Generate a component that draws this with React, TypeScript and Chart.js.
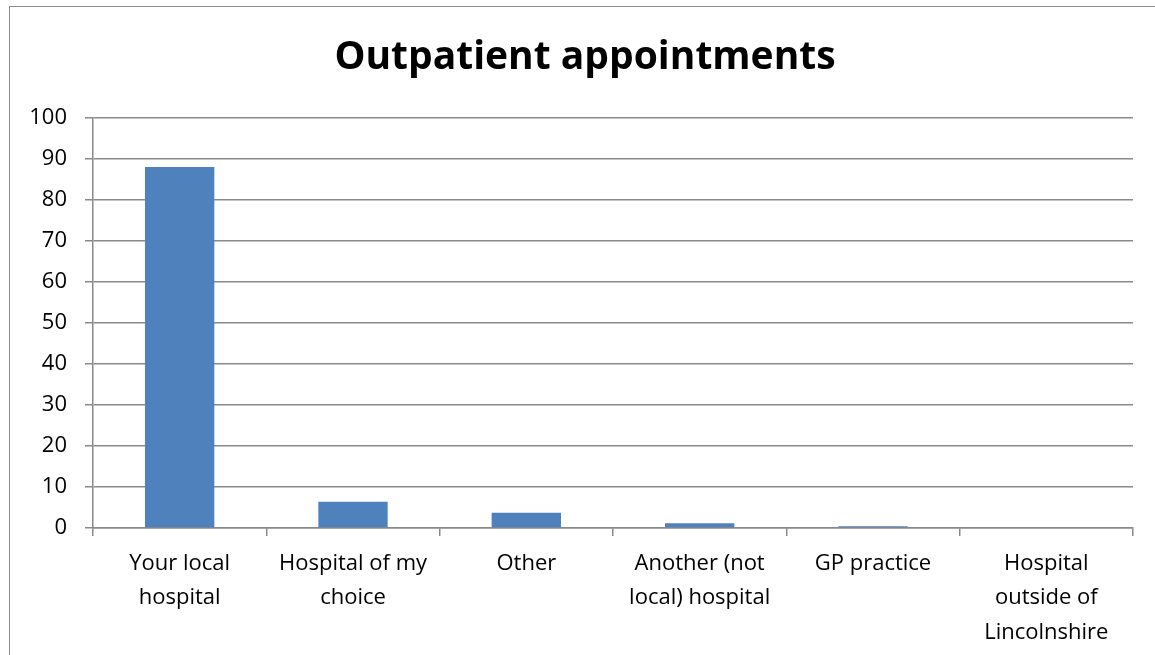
import React, { useEffect, useRef } from "react";
import { Chart, registerables } from "chart.js";

Chart.register(...registerables);

const categories: (string | string[])[] = [
  ["Your local", "hospital"],
  ["Hospital of my", "choice"],
  "Other",
  ["Another (not", "local) hospital"],
  "GP practice",
  ["Hospital", "outside of", "Lincolnshire"],
];
const values = [88, 6.4, 3.7, 1.15, 0.4, 0];
const titleText = "Outpatient appointments";
const yMin = 0;
const yMax = 100;
const yStep = 10;

const FONT = "'Open Sans', 'Liberation Sans', sans-serif";
const GRID = "#898989";

export default function App() {
  const ref = useRef<HTMLCanvasElement | null>(null);
  useEffect(() => {
    if (!ref.current) return;
    const chart = new Chart(ref.current, {
      type: "bar",
      data: {
        labels: categories,
        datasets: [
          {
            data: values,
            yAxisID: "y",
            backgroundColor: "#4F81BD",
            borderWidth: 0,
            categoryPercentage: 1,
            barPercentage: 0.4,
          },
        ],
      },
      options: {
        responsive: false,
        animation: false,
        layout: { padding: { left: 15, right: 0, top: 0, bottom: 0 } },
        plugins: {
          legend: { display: false },
          tooltip: { enabled: false },
          title: {
            display: true,
            text: titleText,
            color: "#000",
            font: { family: FONT, size: 39, weight: "bold", lineHeight: 1.2 },
            padding: { top: 34, bottom: 37 },
          },
        },
        scales: {
          x: {
            offset: true,
            grid: {
              display: true,
              drawOnChartArea: false,
              drawTicks: true,
              tickLength: 8,
              color: GRID,
              lineWidth: 1.5,
              offset: true,
            },
            border: { display: true, color: GRID, width: 1.5 },
            ticks: {
              color: "#000",
              font: { family: FONT, size: 22, lineHeight: 1.55 },
              padding: 11,
              maxRotation: 0,
              autoSkip: false,
            },
            afterFit: (s: any) => {
              s.height = 127;
            },
          },
          y: {
            position: "left",
            min: yMin,
            max: yMax,
            grid: {
              color: GRID,
              lineWidth: 1.5,
              tickLength: 8,
            },
            border: { display: true, color: GRID, width: 1.5 },
            ticks: {
              stepSize: yStep,
              color: "#000",
              font: { family: FONT, size: 22 },
              padding: 18,
            },
            afterFit: (s: any) => {
              s.width = 78;
            },
          },
          yRight: {
            position: "right",
            min: yMin,
            max: yMax,
            grid: { display: false, drawOnChartArea: false, drawTicks: false },
            border: { display: false },
            ticks: { display: false },
            afterFit: (s: any) => {
              s.width = 22;
            },
          },
        },
      } as any,
    });
    return () => chart.destroy();
  }, []);
  return (
    <div style={{ position: "fixed", left: 0, top: 0, width: 1155, height: 655, background: "#fff", overflow: "hidden" }}>
      <div
        style={{
          position: "absolute",
          left: 9,
          top: 6,
          width: 1300,
          height: 800,
          border: "1.5px solid #8c8c8c",
          boxSizing: "border-box",
        }}
      />
      <canvas ref={ref} width={1155} height={655} style={{ position: "absolute", left: 0, top: 0 }} />
    </div>
  );
}
